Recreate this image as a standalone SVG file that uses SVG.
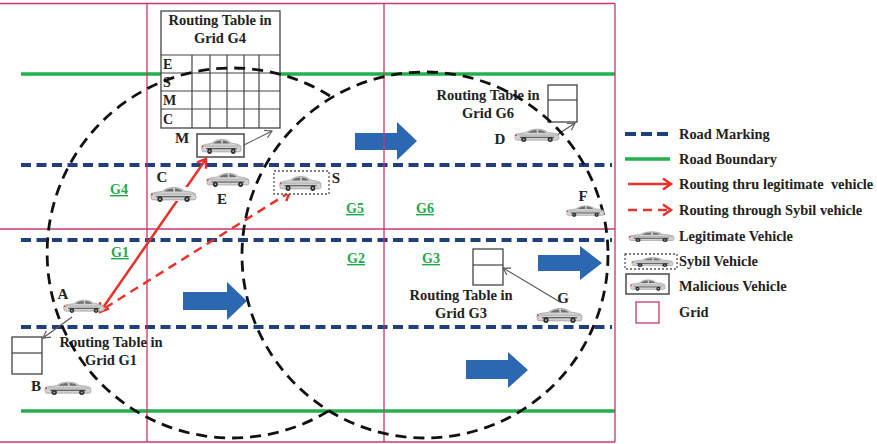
<svg xmlns="http://www.w3.org/2000/svg" xmlns:xlink="http://www.w3.org/1999/xlink" width="877" height="444" viewBox="0 0 877 444">
  <style>
    .grid { stroke: #c8386a; stroke-width: 1.3; fill: none; }
    .boundary { stroke: #22b14c; stroke-width: 3.5; fill: none; }
    .marking { stroke: #1f3f7f; stroke-width: 4; stroke-dasharray: 10 5.5; fill: none; }
    .flow { fill: #2b68b1; }
    .range { stroke: #111; stroke-width: 2.8; stroke-dasharray: 11 7; fill: none; }
    .legit { stroke: #e8322b; stroke-width: 2.5; fill: none; }
    .sybil { stroke: #e8322b; stroke-width: 2.5; stroke-dasharray: 9 6; fill: none; }
    .pointer { stroke: #555; stroke-width: 1.1; fill: none; }
    .table { stroke: #444; stroke-width: 1.3; fill: #fff; }
    .tline { stroke: #444; stroke-width: 1.2; }
    .lbl { font-family: "Liberation Serif", "Times New Roman", serif; font-weight: bold; fill: #222; }
    .title { font-size: 14.5px; text-anchor: middle; }
    .veh { font-size: 15px; text-anchor: middle; }
    .row { font-size: 14px; }
    .gname { font-family: "Liberation Serif", "Times New Roman", serif; font-weight: bold; font-size: 14px; fill: #1ea84a; text-anchor: middle; text-decoration: underline; }
    .legend { font-size: 14.4px; }
    .malbox { stroke: #555; stroke-width: 1.6; fill: #fff; }
    .sybbox { stroke: #555; stroke-width: 1.3; stroke-dasharray: 2 2; fill: #fff; }
  </style>
  <defs>
    <marker id="redHead" markerUnits="userSpaceOnUse" markerWidth="14" markerHeight="14" refX="10" refY="7" orient="auto-start-reverse">
      <path d="M2,1.5 L10,7 L2,12.5" fill="none" stroke="#e8322b" stroke-width="2.5"/>
    </marker>
    <marker id="grayHead" markerUnits="userSpaceOnUse" markerWidth="10" markerHeight="10" refX="8" refY="5" orient="auto">
      <path d="M1,1 L8,5 L1,9" fill="none" stroke="#555" stroke-width="1.1"/>
    </marker>
    <symbol id="car" viewBox="0 0 48 16" preserveAspectRatio="none">
      <path d="M2,10 C2,8 3,7.5 6,7 L13,6 C16,4 19,2.5 24,2.3 C29,2.2 32,3 36,5.8 C41,6.3 45,7 46.5,8.5 L47,12 C47,13.5 46,14 44,14 L4,14 C2.5,14 2,13 2,10 Z" fill="#d2d2d2" stroke="#8a8a8a" stroke-width="0.6"/>
      <path d="M15,6.2 C17.5,4.2 20,3.3 24,3.2 L24.5,6.2 Z" fill="#6e6e6e"/>
      <path d="M26,3.2 C29,3.3 31.5,4.3 34,6 L26,6.2 Z" fill="#6e6e6e"/>
      <path d="M7,11 L42,11" stroke="#444" stroke-width="1"/>
      <path d="M5,8.6 L46,8.6" stroke="#9a9a9a" stroke-width="0.6"/>
      <circle cx="11" cy="13.3" r="2.6" fill="#2a2a2a"/>
      <circle cx="38" cy="13.3" r="2.6" fill="#2a2a2a"/>
      <circle cx="11" cy="13.3" r="1" fill="#aaa"/>
      <circle cx="38" cy="13.3" r="1" fill="#aaa"/>
      <rect x="2" y="8" width="1.8" height="1.6" fill="#e33"/>
    </symbol>
  </defs>

  <rect x="0" y="0" width="877" height="444" fill="#fff"/>

  <!-- road boundaries and lane markings -->
  <g id="roads">
    <line class="boundary" x1="21" y1="74" x2="615" y2="74"/>
    <line class="boundary" x1="21" y1="411" x2="615" y2="411"/>
    <line class="marking" x1="21" y1="165" x2="612" y2="165"/>
    <line class="marking" x1="21" y1="240" x2="612" y2="240"/>
    <line class="marking" x1="21" y1="327" x2="612" y2="327"/>
  </g>

  <!-- direction of traffic -->
  <g id="traffic-flow">
    <polygon class="flow" points="355,133 397,133 397,122 417,141 397,160 397,150 355,150"/>
    <polygon class="flow" points="183,292 227,292 227,282 247,301 227,320 227,310 183,310"/>
    <polygon class="flow" points="538,255 580,255 580,246 602,263 580,280 580,271 538,271"/>
    <polygon class="flow" points="466,360 508,360 508,352 528,370 508,388 508,379 466,379"/>
  </g>

  <!-- grid cells -->
  <g id="grid">
    <line class="grid" x1="0" y1="3.5" x2="615" y2="3.5"/>
    <line class="grid" x1="0" y1="442" x2="615" y2="442"/>
    <line class="grid" x1="0" y1="229" x2="615" y2="229"/>
    <line class="grid" x1="147" y1="3.5" x2="147" y2="442"/>
    <line class="grid" x1="384" y1="3.5" x2="384" y2="442"/>
    <line class="grid" x1="615" y1="3.5" x2="615" y2="442"/>
  </g>

  <!-- grid names -->
  <g id="grid-names">
    <text class="gname" x="119" y="194">G4</text>
    <text class="gname" x="355" y="213">G5</text>
    <text class="gname" x="425" y="213">G6</text>
    <text class="gname" x="120" y="257">G1</text>
    <text class="gname" x="356" y="263">G2</text>
    <text class="gname" x="431" y="263">G3</text>
  </g>

  <!-- routing tables -->
  <g id="table-g4">
    <rect class="table" x="161" y="11" width="119" height="117"/>
    <text class="lbl title" x="220" y="25">Routing Table in</text>
    <text class="lbl title" x="220" y="43">Grid G4</text>
    <line class="tline" x1="161" y1="55" x2="280" y2="55"/>
    <line class="tline" x1="161" y1="73" x2="280" y2="73"/>
    <line class="tline" x1="161" y1="91" x2="280" y2="91"/>
    <line class="tline" x1="161" y1="109" x2="280" y2="109"/>
    <line class="tline" x1="192" y1="55" x2="192" y2="128"/>
    <line class="tline" x1="210" y1="55" x2="210" y2="128"/>
    <line class="tline" x1="227" y1="55" x2="227" y2="128"/>
    <line class="tline" x1="244" y1="55" x2="244" y2="128"/>
    <line class="tline" x1="259" y1="55" x2="259" y2="128"/>
    <text class="lbl row" x="163" y="69">E</text>
    <text class="lbl row" x="163" y="87">S</text>
    <text class="lbl row" x="163" y="105">M</text>
    <text class="lbl row" x="163" y="124">C</text>
  </g>

  <g id="table-g6">
    <rect class="table" x="548" y="85" width="29" height="37"/>
    <line class="tline" x1="548" y1="100" x2="577" y2="100"/>
    <text class="lbl title" x="488" y="100">Routing Table in</text>
    <text class="lbl title" x="488" y="118">Grid G6</text>
  </g>

  <g id="table-g3">
    <rect class="table" x="473" y="249" width="30" height="36"/>
    <line class="tline" x1="473" y1="265" x2="503" y2="265"/>
    <text class="lbl title" x="461" y="300">Routing Table in</text>
    <text class="lbl title" x="461" y="318">Grid G3</text>
  </g>

  <g id="table-g1">
    <rect class="table" x="12" y="337" width="30" height="37"/>
    <line class="tline" x1="12" y1="353" x2="42" y2="353"/>
    <text class="lbl title" x="111" y="347">Routing Table in</text>
    <text class="lbl title" x="111" y="365">Grid G1</text>
  </g>

  <!-- routes and table updates -->
  <g id="connectors">
    <line class="legit" x1="100" y1="312" x2="206" y2="159" marker-start="url(#redHead)" marker-end="url(#redHead)"/>
    <line class="sybil" x1="105" y1="308" x2="290" y2="192" marker-end="url(#redHead)"/>
    <line class="pointer" x1="244" y1="145" x2="272" y2="131" marker-end="url(#grayHead)"/>
    <line class="pointer" x1="557" y1="135" x2="575" y2="123" marker-end="url(#grayHead)"/>
    <line class="pointer" x1="560" y1="302" x2="503" y2="268" marker-end="url(#grayHead)"/>
    <line class="pointer" x1="72" y1="317" x2="43" y2="338" marker-end="url(#grayHead)"/>
  </g>

  <!-- transmission ranges -->
  <g id="ranges">
    <path class="range" d="M330,96 A185,185 0 1 0 330,410"/>
    <circle class="range" cx="425" cy="255" r="183"/>
  </g>

  <!-- vehicles -->
  <g id="vehicle-m">
    <rect class="malbox" x="197" y="134" width="47" height="23"/>
    <use xlink:href="#car" x="200" y="137" width="42" height="17"/>
    <text class="lbl veh" x="182" y="143">M</text>
  </g>
  <g id="vehicle-c">
    <rect x="151" y="187" width="44" height="14" fill="#fff"/>
    <use xlink:href="#car" x="149" y="185" width="48" height="17"/>
    <text class="lbl veh" x="162" y="182">C</text>
  </g>
  <g id="vehicle-e">
    <use xlink:href="#car" x="205" y="171" width="45" height="16"/>
    <text class="lbl veh" x="222" y="204">E</text>
  </g>
  <g id="vehicle-s">
    <rect class="sybbox" x="274" y="171" width="55" height="23"/>
    <use xlink:href="#car" x="278" y="174" width="44" height="17"/>
    <text class="lbl veh" x="336" y="183">S</text>
  </g>
  <g id="vehicle-a">
    <use xlink:href="#car" x="62" y="298" width="43" height="15"/>
    <text class="lbl veh" x="63" y="299">A</text>
  </g>
  <g id="vehicle-b">
    <use xlink:href="#car" x="43" y="380" width="49" height="15"/>
    <text class="lbl veh" x="36" y="391">B</text>
  </g>
  <g id="vehicle-d">
    <use xlink:href="#car" x="513" y="127" width="47" height="15"/>
    <text class="lbl veh" x="500" y="144">D</text>
  </g>
  <g id="vehicle-f">
    <use xlink:href="#car" x="565" y="204" width="40" height="13"/>
    <text class="lbl veh" x="583" y="201">F</text>
  </g>
  <g id="vehicle-g">
    <use xlink:href="#car" x="535" y="306" width="48" height="17"/>
    <text class="lbl veh" x="563" y="303">G</text>
  </g>

  <!-- legend -->
  <g id="legend">
    <g id="legend-marking">
      <line x1="625" y1="134" x2="670" y2="134" stroke="#1f3f7f" stroke-width="4" stroke-dasharray="11 5"/>
      <text class="lbl legend" x="679" y="139">Road Marking</text>
    </g>
    <g id="legend-boundary">
      <line x1="625" y1="159" x2="670" y2="159" stroke="#22b14c" stroke-width="3.5"/>
      <text class="lbl legend" x="679" y="164">Road Boundary</text>
    </g>
    <g id="legend-legit-route">
      <line class="legit" x1="628" y1="184" x2="671" y2="184" marker-end="url(#redHead)"/>
      <text class="lbl legend" x="679" y="189" xml:space="preserve">Routing thru legitimate  vehicle</text>
    </g>
    <g id="legend-sybil-route">
      <line class="sybil" x1="628" y1="210" x2="671" y2="210" stroke-dasharray="9 6" marker-end="url(#redHead)"/>
      <text class="lbl legend" x="679" y="215">Routing through Sybil vehicle</text>
    </g>
    <g id="legend-legit">
      <use xlink:href="#car" x="627" y="230" width="48" height="12"/>
      <text class="lbl legend" x="679" y="241">Legitimate Vehicle</text>
    </g>
    <g id="legend-sybil">
      <rect class="sybbox" x="625" y="254" width="52" height="15"/>
      <use xlink:href="#car" x="630" y="256" width="44" height="11"/>
      <text class="lbl legend" x="679" y="266">Sybil Vehicle</text>
    </g>
    <g id="legend-malicious">
      <rect class="malbox" x="626" y="274" width="43" height="20"/>
      <use xlink:href="#car" x="629" y="278" width="37" height="13"/>
      <text class="lbl legend" x="679" y="291">Malicious Vehicle</text>
    </g>
    <g id="legend-grid">
      <rect class="grid" x="636" y="302" width="23" height="21"/>
      <text class="lbl legend" x="679" y="317">Grid</text>
    </g>
  </g>
</svg>
